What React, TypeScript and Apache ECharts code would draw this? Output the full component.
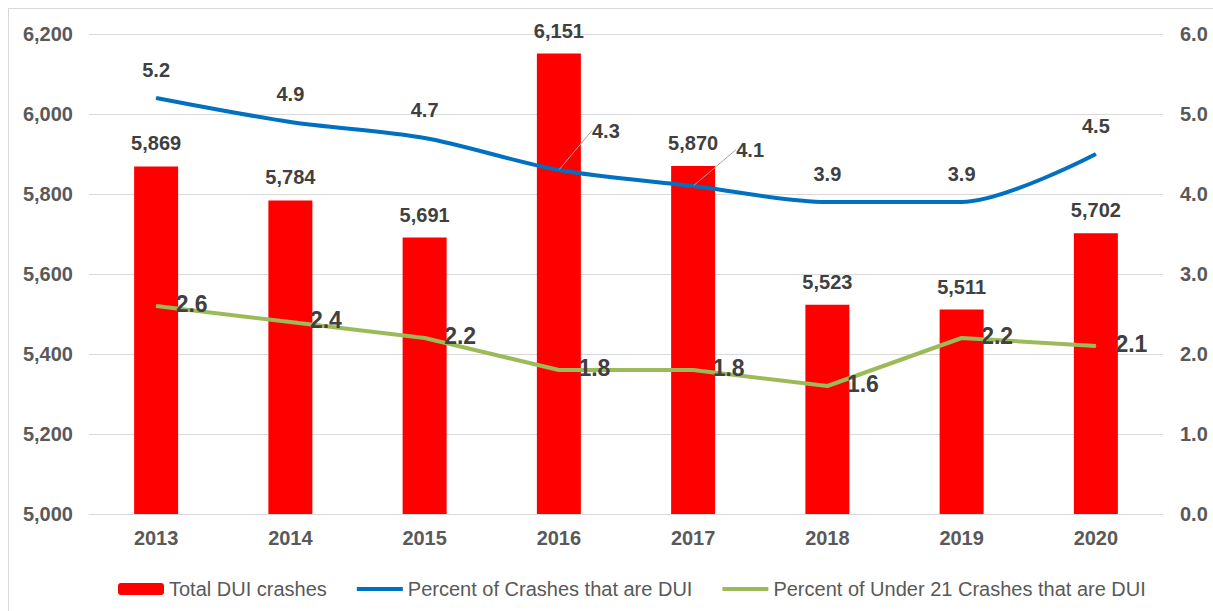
import React, { useEffect, useRef } from "react";
import * as echarts from "echarts";

const years = ["2013", "2014", "2015", "2016", "2017", "2018", "2019", "2020"];
const totalDuiCrashes = [5869, 5784, 5691, 6151, 5870, 5523, 5511, 5702];
const pctCrashesDui = [5.2, 4.9, 4.7, 4.3, 4.1, 3.9, 3.9, 4.5];
const pctUnder21Dui = [2.6, 2.4, 2.2, 1.8, 1.8, 1.6, 2.2, 2.1];

const seriesNames = [
  "Total DUI crashes",
  "Percent of Crashes that are DUI",
  "Percent of Under 21 Crashes that are DUI",
];

// label displacement (style only) for the two leader-line labels
const blueLabelShift: Record<number, [number, number]> = {
  3: [47, -11],
  4: [57, -8],
};

const FONT = "'Liberation Sans', Arial, sans-serif";

export default function App() {
  const ref = useRef<HTMLDivElement>(null);

  useEffect(() => {
    document.body.style.margin = "0";
    document.documentElement.style.overflow = "hidden";
    if (!ref.current) return;
    const chart = echarts.init(ref.current, undefined, { renderer: "svg" });

    const blueData = pctCrashesDui.map((v, i) =>
      blueLabelShift[i]
        ? { value: v, labelLine: { show: true, lineStyle: { color: "#a6a6a6", width: 1 } } }
        : v
    );

    chart.setOption({
      animation: false,
      textStyle: { fontFamily: FONT },
      grid: { left: 80, right: 50, top: 25, bottom: 97, containLabel: false },
      legend: {
        left: 104,
        top: 565,
        itemWidth: 46,
        itemHeight: 12,
        itemGap: 28,
        textStyle: { fontSize: 20, color: "#595959", fontFamily: FONT },
        data: [
          { name: seriesNames[0] },
          { name: seriesNames[1], itemStyle: { opacity: 0 }, lineStyle: { width: 4, color: "#0070c0" } },
          { name: seriesNames[2], itemStyle: { opacity: 0 }, lineStyle: { width: 4, color: "#9bbb59" } },
        ],
      },
      xAxis: {
        type: "category",
        data: years,
        axisLine: { show: true, lineStyle: { color: "#d9d9d9", width: 1 } },
        axisTick: { show: false },
        axisLabel: {
          color: "#595959",
          fontSize: 20,
          fontWeight: "bold",
          fontFamily: FONT,
          margin: 14,
        },
      },
      yAxis: [
        {
          type: "value",
          min: 5000,
          max: 6200,
          interval: 200,
          axisLine: { show: false },
          axisTick: { show: false },
          splitLine: { lineStyle: { color: "#d9d9d9", width: 1 } },
          axisLabel: {
            color: "#595959",
            fontSize: 20,
            fontWeight: "bold",
            fontFamily: FONT,
            margin: 16,
            padding: [0, 0, 8, 0],
            formatter: (v: number) => v.toLocaleString("en-US"),
          },
        },
        {
          type: "value",
          min: 0,
          max: 6,
          interval: 1,
          axisLine: { show: false },
          axisTick: { show: false },
          splitLine: { show: false },
          axisLabel: {
            color: "#595959",
            fontSize: 20,
            fontWeight: "bold",
            fontFamily: FONT,
            margin: 17,
            padding: [0, 0, 8, 0],
            formatter: (v: number) => v.toFixed(1),
          },
        },
      ],
      series: [
        {
          name: seriesNames[0],
          type: "bar",
          yAxisIndex: 0,
          data: totalDuiCrashes,
          barWidth: 44,
          itemStyle: { color: "#ff0000" },
          label: {
            show: true,
            position: "top",
            distance: 13,
            color: "#404040",
            fontSize: 20,
            fontWeight: "bold",
            fontFamily: FONT,
            formatter: (p: any) => Number(p.value).toLocaleString("en-US"),
          },
        },
        {
          name: seriesNames[1],
          type: "line",
          yAxisIndex: 1,
          data: blueData,
          smooth: 0.3,
          symbol: "circle",
          symbolSize: 1,
          itemStyle: { color: "#0070c0" },
          lineStyle: { color: "#0070c0", width: 4 },
          label: {
            show: true,
            position: "top",
            distance: 18,
            color: "#404040",
            fontSize: 20,
            fontWeight: "bold",
            fontFamily: FONT,
            formatter: (p: any) => Number(p.value).toFixed(1),
          },
          labelLayout: (p: any) => {
            const s = blueLabelShift[p.dataIndex];
            return s ? { dx: s[0], dy: s[1] } : {};
          },
          z: 3,
        },
        {
          name: seriesNames[2],
          type: "line",
          yAxisIndex: 1,
          data: pctUnder21Dui,
          symbol: "circle",
          symbolSize: 1,
          itemStyle: { color: "#9bbb59" },
          lineStyle: { color: "#9bbb59", width: 4 },
          label: {
            show: true,
            position: "right",
            distance: 19,
            offset: [0, -2],
            color: "#404040",
            fontSize: 23,
            fontWeight: "bold",
            fontFamily: FONT,
            formatter: (p: any) => Number(p.value).toFixed(1),
          },
          z: 4,
        },
      ],
    });

    return () => chart.dispose();
  }, []);

  return (
    <div
      style={{
        width: 1213,
        height: 611,
        boxSizing: "border-box",
        paddingLeft: 8,
        paddingTop: 8,
        overflow: "hidden",
        background: "#fff",
      }}
    >
      <div
        style={{
          width: 1205,
          height: 603,
          boxSizing: "border-box",
          borderLeft: "1px solid #d9d9d9",
          borderTop: "1px solid #d9d9d9",
        }}
      >
        <div ref={ref} style={{ width: 1204, height: 602 }} />
      </div>
    </div>
  );
}
